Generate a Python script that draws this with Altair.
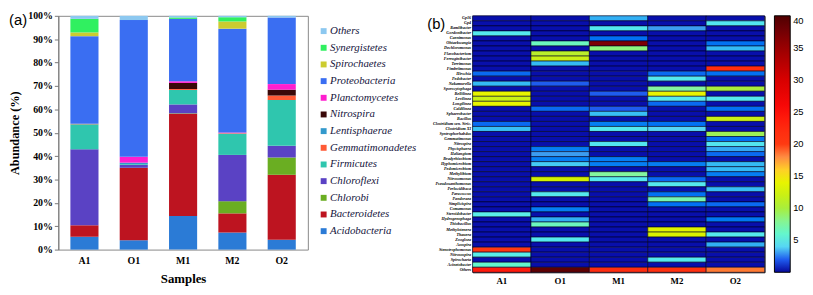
import altair as alt
import pandas as pd

SERIF = "Liberation Serif"
SANS = "Liberation Sans"

# ---------------- panel (a): stacked bars ----------------
samples = ["A1", "O1", "M1", "M2", "O2"]
phyla = ["Acidobacteria", "Bacteroidetes", "Chlorobi", "Chloroflexi", "Firmicutes",
         "Gemmatimonadetes", "Lentisphaerae", "Nitrospira", "Planctomycetes",
         "Proteobacteria", "Spirochaetes", "Synergistetes", "Others"]
phylum_colors = ["#2b7bd6", "#bd1420", "#6aae22", "#5a42c4", "#2fc6ae",
                 "#ff5a36", "#3399cc", "#3a0808", "#ff1ecf",
                 "#3a6ef2", "#cccc30", "#30f060", "#8cc8f0"]
a1_phyla = [5.5, 4.9, 0.0, 32.5, 10.7, 0.2, 0.0, 0.0, 0.0, 37.5, 1.6, 5.8, 1.3]
o1_phyla = [4.0, 31.0, 0.0, 1.3, 0.3, 0.0, 0.6, 0.0, 2.5, 58.5, 0.0, 0.0, 1.8]
m1_phyla = [14.4, 43.7, 0.2, 3.8, 6.2, 0.4, 0.0, 2.6, 0.7, 26.7, 0.0, 0.6, 0.7]
m2_phyla = [7.3, 8.2, 5.2, 19.8, 9.1, 0.2, 0.0, 0.0, 0.3, 44.4, 3.1, 1.8, 0.6]
o2_phyla = [4.2, 27.8, 7.4, 5.0, 19.6, 1.9, 0.0, 2.5, 2.4, 28.5, 0.0, 0.0, 0.7]
y_ticks = [0, 10, 20, 30, 40, 50, 60, 70, 80, 90, 100]

# ---------------- panel (b): heatmap ----------------
genera = ["Gp16", "Gp4", "Ramlibacter", "Gordonibacter", "Caenimonas", "Ohtaekwangia",
          "Dechloromonas", "Flavobacterium", "Ferruginibacter", "Terrimonas", "Fimbriimonas",
          "Hirschia", "Pedobacter", "Nakamurella", "Sporocytophaga", "Bellilinea", "Levilinea",
          "Longilinea", "Caldilinea", "Sphaerobacter", "Bacillus", "Clostridium sen. Stric.",
          "Clostridium XI", "Syntrophorhabdus", "Gemmatimonas", "Nitrospira", "Phycisphaera",
          "Haliangium", "Bradyrhizobium", "Hyphomicrobium", "Pedomicrobium", "Methylibium",
          "Nitrosomonas", "Pseudoxanthomonas", "Perlucidibaca", "Paracoccus", "Pandoraea",
          "Simplicispira", "Comamonas", "Steroidobacter", "Hydrogenophaga", "Thiobacillus",
          "Methylotenera", "Thauera", "Zoogloea", "Azospira", "Stenotrophomonas",
          "Nitrosospira", "Spirochaeta", "Acinetobacter", "Others"]
a1_genus = [0.3, 0.3, 0.3, 4.6, 0.3, 0.3, 0.3, 0.3, 0.3, 0.3,
            0.3, 2.2, 0.3, 3.5, 0.3, 14.0, 12.0, 14.0, 0.3, 0.3,
            0.3, 2.2, 3.6, 0.3, 0.3, 0.3, 0.3, 0.3, 0.3, 0.3,
            0.3, 0.3, 0.3, 0.3, 0.3, 0.3, 0.3, 0.3, 0.3, 4.8,
            0.3, 0.3, 0.3, 0.3, 0.3, 0.3, 20.5, 4.8, 0.3, 6.0, 24.0]
o1_genus = [0.3, 0.3, 0.3, 0.3, 0.3, 6.5, 0.3, 11.0, 12.0, 3.5,
            0.3, 0.3, 0.3, 2.0, 0.3, 0.3, 0.3, 0.3, 2.2, 0.3,
            0.3, 0.3, 0.3, 0.3, 0.3, 0.3, 2.5, 3.0, 2.5, 3.8,
            0.3, 0.3, 12.5, 0.3, 0.3, 4.6, 0.3, 0.3, 2.5, 0.3,
            3.3, 6.5, 0.3, 0.3, 4.6, 0.3, 0.3, 0.3, 0.3, 0.3, 39.0]
m1_genus = [3.3, 0.3, 4.5, 0.3, 2.3, 37.0, 8.5, 0.3, 0.3, 0.3,
            0.3, 0.3, 0.3, 0.3, 0.3, 2.0, 0.3, 0.3, 2.0, 3.6,
            0.3, 2.5, 4.6, 0.3, 0.3, 4.5, 0.3, 0.3, 2.5, 2.5,
            0.3, 7.5, 4.6, 0.3, 0.3, 0.3, 0.3, 0.3, 0.3, 0.3,
            0.3, 0.3, 0.3, 0.3, 0.3, 0.3, 0.3, 0.3, 0.3, 0.3, 22.0]
m2_genus = [0.3, 0.3, 3.0, 0.3, 0.3, 0.3, 0.3, 0.3, 0.3, 0.3,
            0.3, 2.2, 4.6, 0.3, 7.5, 14.0, 4.6, 2.2, 0.3, 0.3,
            0.3, 2.3, 4.0, 0.3, 0.3, 0.3, 0.3, 0.3, 0.3, 2.5,
            0.3, 0.3, 2.2, 4.6, 0.3, 2.3, 7.0, 2.3, 0.3, 0.3,
            0.3, 0.3, 13.5, 13.0, 0.3, 0.3, 0.3, 0.3, 4.6, 0.3, 21.5]
o2_genus = [0.3, 4.5, 0.3, 0.3, 0.3, 2.3, 3.5, 0.3, 0.3, 0.3,
            22.0, 2.3, 0.3, 0.3, 10.0, 0.3, 4.6, 0.3, 2.3, 0.3,
            12.0, 0.3, 0.3, 9.5, 2.3, 4.5, 3.2, 2.2, 0.3, 3.5,
            3.5, 2.5, 0.3, 0.3, 3.6, 0.3, 0.3, 2.2, 0.3, 0.3,
            2.4, 0.3, 0.3, 4.6, 0.3, 3.3, 0.3, 0.3, 0.3, 0.3, 18.5]
heat_stops = [0, 1, 2, 3, 4, 5, 7.5, 10, 12.5, 15, 17.5, 20, 25, 30, 35, 40]
heat_colors = ["#06089a", "#0820d4", "#1f5cef", "#3c9cf0", "#56d6f4", "#62f4e6",
               "#84f6a0", "#a8ee3c", "#d2f000", "#f6f600", "#ff9a50", "#ff3a12",
               "#ff0a0a", "#d80000", "#9a0000", "#500000"]
colorbar_values = [5, 10, 15, 20, 25, 30, 35, 40]

# ---------------- build tables ----------------
bar_rows = []
for s, vals in zip(samples, [a1_phyla, o1_phyla, m1_phyla, m2_phyla, o2_phyla]):
    for i, (p, v) in enumerate(zip(phyla, vals)):
        bar_rows.append({"sample": s, "phylum": p, "rank": i, "value": v})
bar_df = pd.DataFrame(bar_rows)

heat_rows = []
for s, vals in zip(samples, [a1_genus, o1_genus, m1_genus, m2_genus, o2_genus]):
    for g, v in zip(genera, vals):
        heat_rows.append({"sample": s, "genus": g, "value": v})
heat_df = pd.DataFrame(heat_rows)

legend_order = phyla[::-1]
legend_colors = [phylum_colors[phyla.index(p)] for p in legend_order]

BAR_W = 253

bars = alt.Chart(bar_df).mark_bar().encode(
    x=alt.X("sample:N", sort=samples,
            scale=alt.Scale(paddingInner=0.43, paddingOuter=0.245),
            axis=alt.Axis(title="Samples", labelAngle=0, ticks=False, domain=False,
                          labelFont=SERIF, labelFontWeight="bold", labelFontSize=10,
                          labelColor="black", labelPadding=6,
                          titleFont=SERIF, titleFontWeight="bold", titleFontSize=13,
                          titleColor="black", titlePadding=7)),
    y=alt.Y("value:Q", stack="zero", scale=alt.Scale(domain=[0, 100], nice=False),
            axis=alt.Axis(values=y_ticks, labelExpr="datum.value + '%'",
                          title="Abundance (%)", grid=False, tickSize=4,
                          tickColor="#777", domainColor="#777",
                          labelFont=SERIF, labelFontWeight="bold", labelFontSize=10,
                          labelColor="black", labelPadding=2,
                          titleFont=SERIF, titleFontWeight="bold", titleFontSize=12.5,
                          titleColor="black", titlePadding=6)),
    color=alt.Color("phylum:N",
                    scale=alt.Scale(domain=legend_order, range=legend_colors),
                    legend=alt.Legend(title=None, orient="none",
                                      legendX=BAR_W + 10.5, legendY=10,
                                      symbolType="square", symbolSize=36,
                                      symbolStrokeWidth=0, labelFont=SERIF,
                                      labelFontStyle="italic", labelFontSize=11,
                                      labelColor="#14143c", labelOffset=1,
                                      rowPadding=4.9, padding=0)),
    order=alt.Order("rank:Q", sort="ascending"),
).properties(
    width=BAR_W, height=237,
    title=alt.TitleParams("(a)", anchor="start", frame="group", dx=-50, dy=17,
                          offset=0, font=SANS, fontSize=15, fontWeight="normal",
                          color="black"),
    view=alt.ViewBackground(stroke="#888", strokeWidth=1),
)

heat = alt.Chart(heat_df).mark_rect(stroke="#000022", strokeWidth=0.6).encode(
    x=alt.X("sample:N", sort=samples,
            scale=alt.Scale(paddingInner=0, paddingOuter=0),
            axis=alt.Axis(title=None, labelAngle=0, ticks=False, domain=False,
                          labelFont=SERIF, labelFontWeight="bold", labelFontSize=9,
                          labelColor="black", labelPadding=4)),
    y=alt.Y("genus:N", sort=genera,
            axis=alt.Axis(title=None, ticks=False, domain=False, labelOverlap=False,
                          labelFont=SERIF, labelFontStyle="italic", labelFontWeight="bold",
                          labelFontSize=4.2, labelColor="black", labelPadding=2)),
    color=alt.Color("value:Q",
                    scale=alt.Scale(domain=heat_stops, range=heat_colors),
                    legend=alt.Legend(title=None, orient="right", offset=10, padding=0,
                                      gradientLength=260, gradientThickness=16,
                                      gradientStrokeColor="black", gradientStrokeWidth=1,
                                      values=colorbar_values, labelFont=SANS,
                                      labelFontSize=9.5, labelColor="black",
                                      labelOffset=3)),
).properties(
    width=296, height=260,
    title=alt.TitleParams("(b)", anchor="start", frame="group", dx=-46, dy=17,
                          offset=0, font=SANS, fontSize=15, fontWeight="normal",
                          color="black"),
    view=alt.ViewBackground(stroke="black", strokeWidth=1),
)

chart = alt.hconcat(bars, heat, spacing=9).resolve_scale(
    color="independent", x="independent", y="independent"
).properties(padding=0)

chart.save("out.html", embed_options={"renderer": "svg", "actions": False})
